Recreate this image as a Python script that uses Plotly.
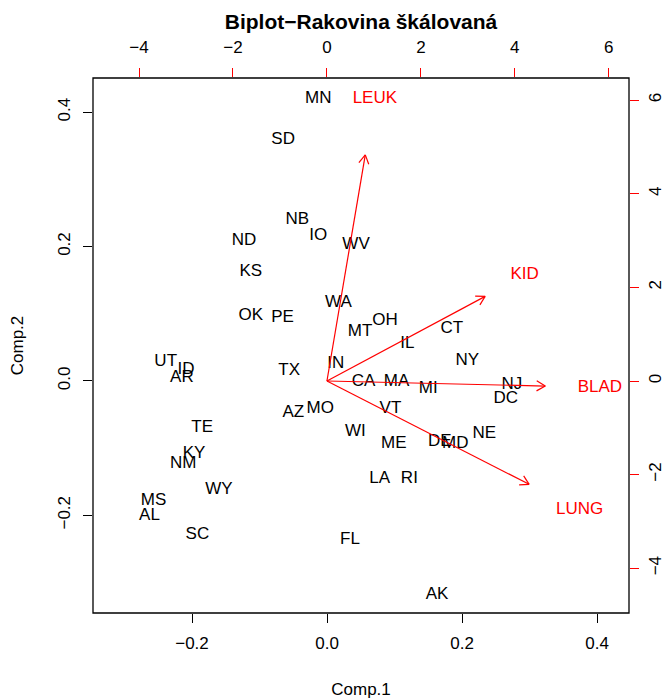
import math
import plotly.graph_objects as go

# ---- data ----
states = ["MN", "SD", "NB", "IO", "ND", "WV", "KS", "OK", "PE", "WA", "MT", "OH",
          "IL", "CT", "NY", "IN", "TX", "UT", "ID", "AR", "CA", "MA", "MI", "NJ",
          "DC", "VT", "AZ", "MO", "TE", "WI", "ME", "DE", "MD", "NE", "KY", "NM",
          "WY", "MS", "AL", "SC", "FL", "LA", "RI", "AK"]
comp1 = [-0.013, -0.065, -0.044, -0.013, -0.123, 0.043, -0.113, -0.113, -0.066, 0.017, 0.049, 0.086,
         0.119, 0.185, 0.208, 0.013, -0.056, -0.239, -0.209, -0.215, 0.054, 0.103, 0.150, 0.274,
         0.265, 0.094, -0.050, -0.010, -0.185, 0.042, 0.099, 0.167, 0.190, 0.233, -0.197, -0.213,
         -0.160, -0.257, -0.263, -0.192, 0.034, 0.078, 0.122, 0.163]
comp2 = [0.420, 0.359, 0.240, 0.216, 0.209, 0.203, 0.162, 0.097, 0.094, 0.116, 0.073, 0.089,
         0.055, 0.077, 0.030, 0.025, 0.015, 0.029, 0.016, 0.004, -0.001, -0.001, -0.012, -0.005,
         -0.027, -0.041, -0.047, -0.042, -0.069, -0.076, -0.094, -0.090, -0.093, -0.078, -0.109, -0.123,
         -0.162, -0.178, -0.201, -0.229, -0.236, -0.146, -0.146, -0.319]

variables = ["LEUK", "KID", "BLAD", "LUNG"]
load1 = [1.02, 4.21, 5.81, 5.38]
load2 = [6.04, 2.26, -0.135, -2.76]

x_ticks = [-0.2, 0.0, 0.2, 0.4]
y_ticks = [-0.2, 0.0, 0.2, 0.4]
x2_ticks = [-4, -2, 0, 2, 4, 6]
y2_ticks = [-4, -2, 0, 2, 4, 6]

title = "Biplot\u2212Rakovina škálovaná"

# ---- layout constants (page body has an 8px margin) ----
OFF = 8
W, H = 672 - OFF, 699 - OFF
ML, MR, MT, MB = 93 - OFF, 43, 78 - OFF, 86
XR = [-0.3467, 0.4474]
YR = [-0.3455, 0.4510]
X2R = [-4.98, 6.43]
Y2R = [-4.957, 6.474]
FONT = "Liberation Sans, Arial, Helvetica, sans-serif"
RED = "#FF0000"

pw = W - ML - MR
ph = H - MT - MB
sx = pw / (X2R[1] - X2R[0])
sy = ph / (Y2R[1] - Y2R[0])

fig = go.Figure()

fig.add_trace(go.Scatter(
    x=comp1, y=comp2, text=states, mode="text",
    textposition="middle center",
    textfont=dict(family=FONT, size=17, color="black"),
    xaxis="x", yaxis="y", hoverinfo="text", showlegend=False))

# arrows to 0.8 * loading, labels at loading
ax, ay = [], []
head_len = 10.0
for lx, ly in zip(load1, load2):
    tx, ty = 0.8 * lx, 0.8 * ly
    ang = math.atan2(ty * sy, tx * sx)
    ax += [0, tx, None]
    ay += [0, ty, None]
    for s in (1, -1):
        a = ang + math.pi + s * math.pi / 6
        wx = tx + head_len * math.cos(a) / sx
        wy = ty + head_len * math.sin(a) / sy
        ax += [tx, wx, None]
        ay += [ty, wy, None]

fig.add_trace(go.Scatter(x=ax, y=ay, mode="lines",
                         line=dict(color=RED, width=1.2),
                         xaxis="x2", yaxis="y2", hoverinfo="skip", showlegend=False))
fig.add_trace(go.Scatter(x=load1, y=load2, text=variables, mode="text",
                         textposition="middle center",
                         textfont=dict(family=FONT, size=17, color=RED),
                         xaxis="x2", yaxis="y2", hoverinfo="text", showlegend=False))

common = dict(showgrid=False, zeroline=False, ticks="outside", ticklen=9, automargin=False,
              tickfont=dict(family=FONT, size=17, color="black"), showline=False)

fig.update_layout(
    width=W, height=H,
    margin=dict(l=ML, r=MR, t=MT, b=MB, autoexpand=False),
    paper_bgcolor="white", plot_bgcolor="white",
    font=dict(family=FONT, size=17, color="black"),
    title=dict(text="<b>" + title + "</b>", x=(ML + pw / 2) / W, xref="container", xanchor="center",
               y=1 - (22 - OFF) / H, yref="container", yanchor="middle", automargin=False,
               font=dict(family=FONT, size=21, color="black")),
    xaxis=dict(range=XR, tickvals=x_ticks, ticktext=["\u22120.2", "0.0", "0.2", "0.4"],
               tickcolor="black", ticklabelstandoff=6,
               title=dict(text="Comp.1", standoff=30, font=dict(family=FONT, size=17)),
               **common),
    yaxis=dict(range=YR, tickvals=y_ticks, ticktext=["\u22120.2", "0.0", "0.2", "0.4"],
               tickcolor="black", tickangle=-90, ticklabelstandoff=6,
               title=dict(text="Comp.2", standoff=27, font=dict(family=FONT, size=17)),
               **common),
    xaxis2=dict(range=X2R, tickvals=x2_ticks, overlaying="x", side="top",
                anchor="y", tickcolor=RED, ticklabelstandoff=8, **common),
    yaxis2=dict(range=Y2R, tickvals=y2_ticks, overlaying="y", side="right",
                anchor="x", tickcolor=RED, tickangle=-90, ticklabelstandoff=2, **common),
    shapes=[dict(type="rect", xref="paper", yref="paper", x0=0, y0=0, x1=1, y1=1,
                 line=dict(color="black", width=1.3), layer="above")],
)

fig.write_html("out.html")
